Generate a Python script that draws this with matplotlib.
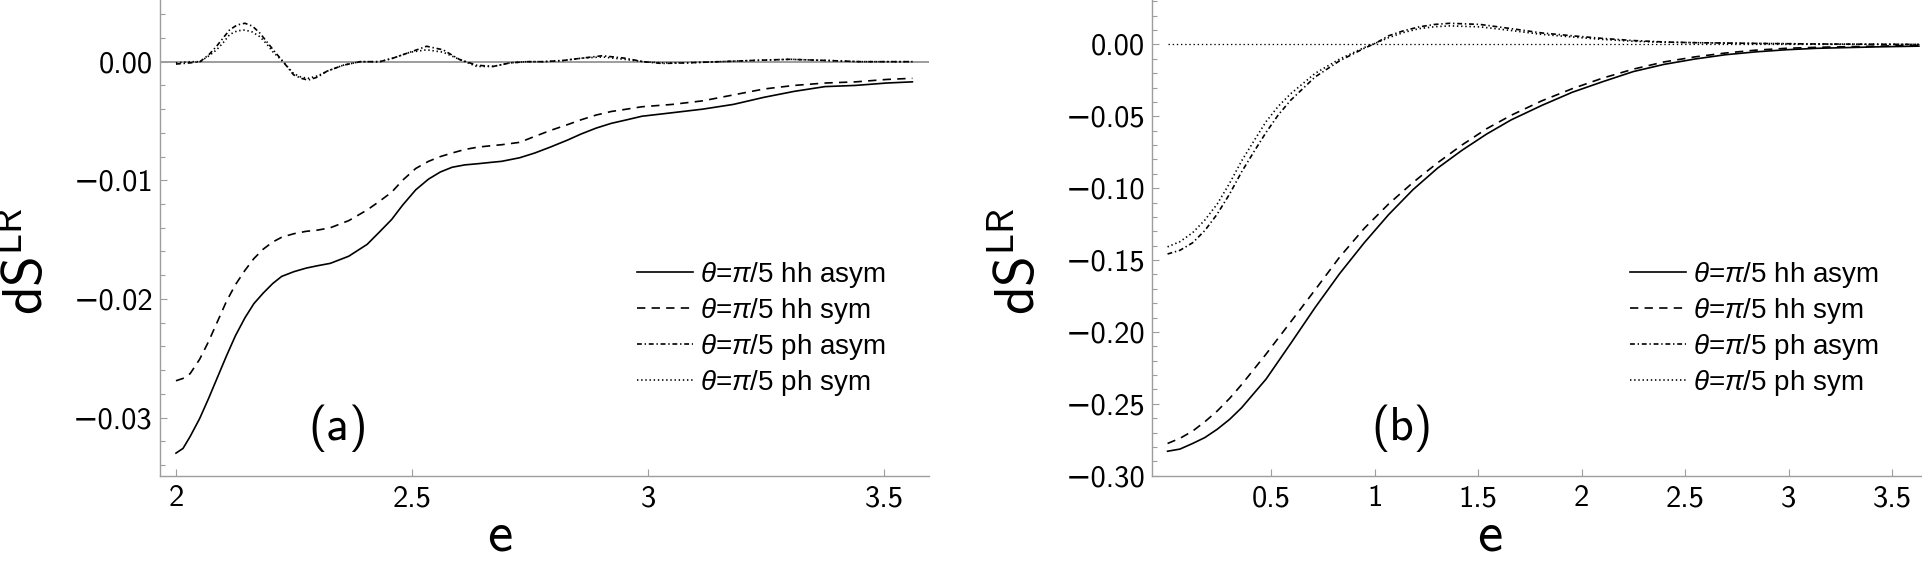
import numpy as np
import matplotlib
matplotlib.use('Agg')
import matplotlib.pyplot as plt
from matplotlib.ticker import MultipleLocator, FuncFormatter

# fonts: CM sans for axes, Arial-like for the legend
plt.rcParams['font.family'] = ['cmss10', 'DejaVu Sans']
plt.rcParams['mathtext.fontset'] = 'custom'
plt.rcParams['mathtext.rm'] = 'Liberation Sans'
plt.rcParams['mathtext.it'] = 'Liberation Sans:italic'
plt.rcParams['mathtext.sf'] = 'cmss10'
plt.rcParams['lines.scale_dashes'] = False

# ---- panel (a) data ----
e_a = [2.00, 2.015, 2.03, 2.05, 2.069, 2.088, 2.107, 2.126, 2.146, 2.165, 2.185, 2.205, 2.224,
       2.25, 2.276, 2.30, 2.327, 2.366, 2.405, 2.43, 2.457, 2.48, 2.508, 2.535, 2.56, 2.585,
       2.612, 2.64, 2.664, 2.69, 2.728, 2.76, 2.793, 2.83, 2.858, 2.89, 2.922, 2.955, 2.987,
       3.052, 3.116, 3.181, 3.246, 3.31, 3.375, 3.44, 3.505, 3.56]
hh_asym_a = [-0.0330, -0.0326, -0.0316, -0.0301, -0.0284, -0.0266, -0.0248, -0.0231, -0.0216,
             -0.0204, -0.0195, -0.0187, -0.0181, -0.0177, -0.0174, -0.0172, -0.0170, -0.0164,
             -0.0154, -0.0144, -0.0133, -0.0121, -0.0108, -0.0099, -0.0093, -0.0089, -0.0087,
             -0.0086, -0.0085, -0.0084, -0.0081, -0.0077, -0.0072, -0.0066, -0.0061, -0.0056,
             -0.0052, -0.0049, -0.0046, -0.0043, -0.0040, -0.0036, -0.0030, -0.0025, -0.0021,
             -0.0020, -0.0018, -0.0017]
hh_sym_a = [-0.0269, -0.0267, -0.0263, -0.0251, -0.0236, -0.0219, -0.0202, -0.0188, -0.0176,
            -0.0166, -0.0158, -0.0152, -0.0148, -0.0145, -0.0143, -0.0142, -0.0140, -0.0134,
            -0.0125, -0.0118, -0.0110, -0.0100, -0.0090, -0.0084, -0.0080, -0.0077, -0.0074,
            -0.0072, -0.0071, -0.0070, -0.0068, -0.0063, -0.0058, -0.0053, -0.0049, -0.0045,
            -0.0042, -0.0040, -0.0038, -0.0036, -0.0033, -0.0028, -0.0023, -0.0020, -0.0018,
            -0.0017, -0.0015, -0.0014]

e_ph_a = [2.00, 2.03, 2.051, 2.07, 2.086, 2.10, 2.114, 2.13, 2.146, 2.162, 2.178, 2.192, 2.206,
          2.227, 2.249, 2.265, 2.28, 2.30, 2.32, 2.354, 2.39, 2.432, 2.46, 2.496, 2.531, 2.566,
          2.60, 2.637, 2.672, 2.708, 2.743, 2.778, 2.82, 2.86, 2.903, 2.95, 2.99, 3.03, 3.08,
          3.15, 3.22, 3.30, 3.38, 3.45, 3.56]
ph_asym_a = [-0.0002, -0.0001, 0.0, 0.0006, 0.0013, 0.0020, 0.0027, 0.0031, 0.00324, 0.0030,
             0.0024, 0.0017, 0.0010, 0.0, -0.0011, -0.0014, -0.00155, -0.0013, -0.0008, -0.0003,
             0.0, 0.0, 0.0003, 0.0008, 0.0013, 0.0010, 0.0002, -0.0003, -0.0004, -0.0001, 0.0,
             0.0, 0.0001, 0.0003, 0.0005, 0.0003, 0.0, -0.00015, -0.0001, 0.0, 0.0001, 0.0002,
             0.0001, 0.0, 0.0]
ph_sym_a = [-0.0001, 0.0, 0.0, 0.0005, 0.0010, 0.0016, 0.0023, 0.0026, 0.00267, 0.0025, 0.0021,
            0.0015, 0.0008, 0.0, -0.0010, -0.0013, -0.0014, -0.0012, -0.0008, -0.0003, 0.0, 0.0,
            0.0003, 0.0008, 0.0010, 0.0008, 0.0002, -0.0004, -0.0004, -0.0001, 0.0, 0.0, 0.0001,
            0.0003, 0.0004, 0.0002, 0.0, -0.0001, -0.0001, 0.0, 0.0001, 0.0002, 0.0001, 0.0, 0.0]

# ---- panel (b) data ----
e_b = [0.0, 0.06, 0.121, 0.18, 0.24, 0.3, 0.358, 0.476, 0.595, 0.713, 0.831, 0.95, 1.068, 1.186,
       1.305, 1.423, 1.541, 1.66, 1.807, 1.955, 2.103, 2.25, 2.398, 2.546, 2.694, 2.84, 2.99,
       3.137, 3.285, 3.43, 3.63]
hh_asym_b = [-0.283, -0.2815, -0.2776, -0.2735, -0.2677, -0.2608, -0.2527, -0.2328, -0.208,
             -0.183, -0.1595, -0.138, -0.1184, -0.101, -0.086, -0.0736, -0.0624, -0.0525,
             -0.0425, -0.0333, -0.0259, -0.0189, -0.0139, -0.0102, -0.0072, -0.0052, -0.0037,
             -0.0027, -0.0022, -0.0017, -0.0012]
hh_sym_b = [-0.2776, -0.2740, -0.269, -0.2625, -0.255, -0.2462, -0.2366, -0.2154, -0.193,
            -0.1707, -0.148, -0.128, -0.111, -0.096, -0.0823, -0.0699, -0.0587, -0.0493,
            -0.0393, -0.0308, -0.0234, -0.0172, -0.0122, -0.0087, -0.006, -0.004, -0.0027,
            -0.002, -0.0016, -0.0012, -0.0007]

e_ph_b = [0.0, 0.06, 0.121, 0.18, 0.24, 0.3, 0.358, 0.42, 0.476, 0.535, 0.595, 0.713, 0.831,
          0.95, 1.007, 1.068, 1.14, 1.216, 1.29, 1.364, 1.51, 1.66, 1.807, 1.955, 2.10, 2.25,
          2.40, 2.546, 2.84, 3.137, 3.63]
ph_asym_b = [-0.1458, -0.1432, -0.138, -0.1295, -0.118, -0.1040, -0.0886, -0.0740, -0.0612,
             -0.0490, -0.0388, -0.0226, -0.0114, -0.0027, 0.001, 0.006, 0.0095, 0.0122, 0.0139,
             0.0147, 0.0139, 0.011, 0.008, 0.006, 0.0042, 0.0027, 0.0017, 0.0012, 0.0007, 0.0003,
             0.0]
ph_sym_b = [-0.1408, -0.1372, -0.131, -0.1222, -0.111, -0.0965, -0.081, -0.0665, -0.0537,
            -0.0430, -0.0343, -0.0201, -0.0102, -0.0022, 0.001, 0.0047, 0.0083, 0.011, 0.0123,
            0.0129, 0.0122, 0.0097, 0.007, 0.0052, 0.0035, 0.0022, 0.0015, 0.0012, 0.0007,
            0.0003, 0.0]

labels = [r'$\theta$=$\pi$/5 hh asym', r'$\theta$=$\pi$/5 hh sym',
          r'$\theta$=$\pi$/5 ph asym', r'$\theta$=$\pi$/5 ph sym']
styles = ['-', (0, (6, 4.5)), (0, (3.5, 2, 1, 2)), (0, (1, 2))]

axis_grey = '0.62'


def minus_fmt(digits):
    def f(v, pos):
        if abs(v) < 1e-12:
            v = 0.0
        return f'{v:.{digits}f}'.replace('-', '\u2212')
    return FuncFormatter(f)


def style_axes(ax):
    for s in ['top', 'right']:
        ax.spines[s].set_visible(False)
    for s in ['left', 'bottom']:
        ax.spines[s].set_color(axis_grey)
        ax.spines[s].set_linewidth(1.0)
    ax.tick_params(which='both', direction='in', color=axis_grey, labelsize=22, width=0.8)
    ax.tick_params(which='major', length=5)
    ax.tick_params(which='minor', length=3.5)
    ax.tick_params(axis='x', pad=7)
    ax.tick_params(axis='y', pad=5)
    ax.xaxis.set_major_formatter(FuncFormatter(lambda v, p: f'{v:g}'))


fig = plt.figure(figsize=(19.22, 5.62), dpi=100)
ax_a = fig.add_axes([0.0832, 0.1536, 0.4001, 0.8464])
ax_b = fig.add_axes([0.5994, 0.1536, 0.4006, 0.8464])

# panel (a)
ax_a.axhline(0, color='0.55', lw=1.2, zorder=1)
for y, ls, lab in zip([hh_asym_a, hh_sym_a], styles[:2], labels[:2]):
    ax_a.plot(e_a, y, color='black', lw=1.2, linestyle=ls, label=lab)
for y, ls, lab in zip([ph_asym_a, ph_sym_a], styles[2:], labels[2:]):
    ax_a.plot(e_ph_a, y, color='black', lw=1.2, linestyle=ls, label=lab)
ax_a.set_xlim(1.966, 3.595)
ax_a.set_ylim(-0.0349, 0.0052)
ax_a.xaxis.set_major_locator(MultipleLocator(0.5))
ax_a.yaxis.set_major_locator(MultipleLocator(0.01))
ax_a.yaxis.set_minor_locator(MultipleLocator(0.002))
style_axes(ax_a)
ax_a.yaxis.set_major_formatter(minus_fmt(2))

# panel (b)
ax_b.hlines(0, e_ph_b[0], e_ph_b[-1], color='black', lw=0.9, linestyles=(0, (1, 2)), zorder=1)
for y, ls, lab in zip([hh_asym_b, hh_sym_b], styles[:2], labels[:2]):
    ax_b.plot(e_b, y, color='black', lw=1.2, linestyle=ls, label=lab)
for y, ls, lab in zip([ph_asym_b, ph_sym_b], styles[2:], labels[2:]):
    ax_b.plot(e_ph_b, y, color='black', lw=1.2, linestyle=ls, label=lab)
ax_b.set_xlim(-0.075, 3.645)
ax_b.set_ylim(-0.30, 0.0309)
ax_b.set_xticks(np.arange(0.5, 3.6, 0.5))
ax_b.yaxis.set_major_locator(MultipleLocator(0.05))
ax_b.yaxis.set_minor_locator(MultipleLocator(0.01))
style_axes(ax_b)
ax_b.yaxis.set_major_formatter(minus_fmt(2))

for ax, tag, tx in [(ax_a, '(a)', 0.2315), (ax_b, '(b)', 0.3247)]:
    ax.legend(loc='center left', bbox_to_anchor=(0.621, 0.309), frameon=False,
              prop={'family': 'Liberation Sans', 'size': 20}, handlelength=2.0,
              handletextpad=0.25, labelspacing=0.22, borderpad=0, borderaxespad=0)
    ax.text(tx, 0.1003, tag, transform=ax.transAxes, ha='center', va='center', fontsize=34)

# axis labels
for xl, xe in [(0.0146, 0.2601), (0.5307, 0.7752)]:
    fig.text(xl, 0.5356, r'$\mathsf{dS}^{\mathsf{LR}}$', rotation=90, ha='center',
             va='center', fontsize=40)
    fig.text(xe, 0.02, 'e', ha='center', va='baseline', fontsize=41)

fig.savefig('out.png', dpi=100)
